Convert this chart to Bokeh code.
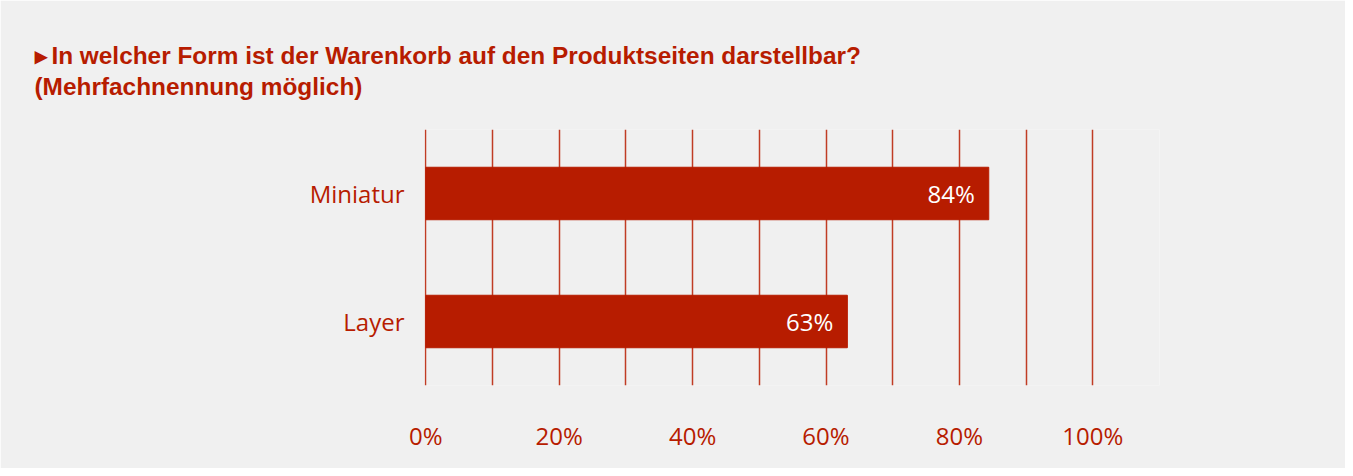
from bokeh.plotting import figure
from bokeh.models import Range1d, FactorRange, FixedTicker, Title, ColumnDataSource, CustomJSTickFormatter
from bokeh.core.properties import value
from bokeh.embed import file_html
from bokeh.resources import INLINE

# Data
categories = ["Miniatur", "Layer"]
shares = [84.4, 63.2]
bar_labels = ["84%", "63%"]
tick_values = [0, 20, 40, 60, 80, 100]
title_lines = ["▸\u2009In welcher Form ist der Warenkorb auf den Produktseiten darstellbar?",
               "(Mehrfachnennung möglich)"]

RED = "#b71c00"
BG = "#f0f0f0"
FONT = "Open Sans"
TFONT = "Liberation Sans"

p = figure(width=1345, height=468, output_backend="svg", toolbar_location=None,
           y_range=FactorRange(factors=list(reversed(categories))),
           x_range=Range1d(-0.2, 110),
           min_border_left=424, min_border_right=186, min_border_top=129, min_border_bottom=83)
p.background_fill_color = BG
p.border_fill_color = BG
p.outline_line_color = None

src = ColumnDataSource(dict(cat=categories, val=shares, lab=bar_labels))
p.hbar(y="cat", left=0, right="val", height=0.41, color=RED, source=src)
p.text(x="val", y="cat", text="lab", source=src, x_offset=-14, text_align="right",
       text_baseline="middle", text_color="white", text_font=value(FONT), text_font_size="24px")

p.ygrid.grid_line_color = None
p.xgrid.ticker = FixedTicker(ticks=list(range(0, 101, 10)))
p.xgrid.grid_line_color = RED
p.xgrid.grid_line_width = 1.5
p.xgrid.grid_line_alpha = 0.85

p.xaxis.ticker = FixedTicker(ticks=tick_values)
p.xaxis.formatter = CustomJSTickFormatter(code="return tick + '%';")
for ax in (p.xaxis[0], p.yaxis[0]):
    ax.axis_line_color = None
    ax.major_tick_line_color = None
    ax.minor_tick_line_color = None
    ax.major_label_text_color = RED
    ax.major_label_text_font = FONT
    ax.major_label_text_font_size = "24px"
p.xaxis.major_label_standoff = 27
p.yaxis.major_label_standoff = 14

# Two-line title
p.add_layout(Title(text="\n".join(title_lines), align="left", offset=-390, standoff=59,
                   text_color=RED, text_font=TFONT, text_font_style="bold",
                   text_font_size="24.4px", text_line_height=1.16), "above")

open("out.html", "w").write(file_html(p, INLINE))
